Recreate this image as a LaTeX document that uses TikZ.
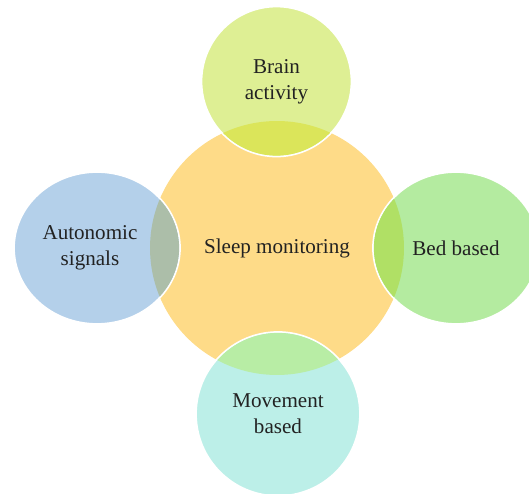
\documentclass[tikz,border=0pt]{standalone}
\usepackage{fontspec}
\setmainfont{Liberation Serif}
\usepackage{tikz}
\usetikzlibrary{shapes.geometric}

\definecolor{sleepyellow}{HTML}{FEDB88}
\definecolor{brainlime}{HTML}{DEEF94}
\definecolor{brainover}{HTML}{DBE55A}
\definecolor{autoblue}{HTML}{B4D0EA}
\definecolor{autoover}{HTML}{ACBEA9}
\definecolor{bedgreen}{HTML}{B4EBA0}
\definecolor{bedover}{HTML}{B0E065}
\definecolor{moveaqua}{HTML}{BCEFE8}
\definecolor{moveover}{HTML}{B8EDA5}
\definecolor{labeltext}{HTML}{222222}

\tikzset{
	bubble/.style={inner sep=0pt, draw=white, line width=1pt, align=center,
		text=labeltext, font=\fontsize{12}{15}\selectfont}
}

\begin{document}
\begin{tikzpicture}[x=0.02cm,y=0.02cm]
	\useasboundingbox (0,0) rectangle (529,494);

	\node[bubble,circle,draw=none,fill=sleepyellow,minimum size=5.08cm](sleep) at (277,246) {Sleep monitoring};
	\node[bubble,circle,fill=brainlime,minimum size=3cm](brain) at (276.5,412.5) {Brain\\activity};
	\node[bubble,ellipse,fill=autoblue,minimum width=3.32cm,minimum height=3.04cm](auto) at (97,246) {Autonomic\hspace*{8pt}\\signals\hspace*{8pt}};
	\node[bubble,ellipse,fill=bedgreen,minimum width=3.32cm,minimum height=3.04cm](bed) at (456,246) {Bed based};
	\node[bubble,circle,fill=moveaqua,minimum size=3.28cm](move) at (278,80) {Movement\\based};

	% overlaps with the middle circle
	\begin{scope}
		\clip (sleep.center) circle (2.54cm);
		\fill[brainover] (brain.center) circle (1.5cm-0.5pt);
		\fill[autoover] (auto.center) ellipse (1.66cm-0.5pt and 1.52cm-0.5pt);
		\fill[bedover] (bed.center) ellipse (1.66cm-0.5pt and 1.52cm-0.5pt);
		\fill[moveover] (move.center) circle (1.64cm-0.5pt);
	\end{scope}
\end{tikzpicture}
\end{document}
